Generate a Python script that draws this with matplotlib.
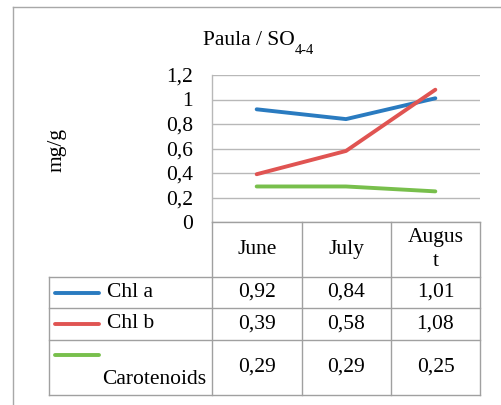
import matplotlib
from matplotlib import pyplot as plt
from matplotlib.lines import Line2D

matplotlib.use("Agg")

plt.rcParams["font.family"] = ["Liberation Serif", "DejaVu Serif"]

# data
months = ["June", "July", "Augus\nt"]
series_names = ["Chl a", "Chl b", "Carotenoids"]
chl_a = [0.92, 0.84, 1.01]
chl_b = [0.39, 0.58, 1.08]
carotenoids = [0.29, 0.29, 0.25]
y_ticks = [0, 0.2, 0.4, 0.6, 0.8, 1.0, 1.2]

colors = ["#2a7bc0", "#e05452", "#78bf4c"]
grid_col = "#b8b8b8"
table_col = "#a0a0a0"
fs = 15.5

W, H = 501, 405
fig = plt.figure(figsize=(W / 100, H / 100), dpi=100)


def fx(x):
    return x / W


def fy(y):
    return 1 - y / H


# plot area (pixel layout)
p_left, p_right, p_top, p_bottom = 212, 480, 75, 222
ax = fig.add_axes([fx(p_left), fy(p_bottom), fx(p_right) - fx(p_left), fy(p_top) - fy(p_bottom)])

x_pos = [i + 0.5 for i in range(len(months))]
for vals, col in zip([chl_a, chl_b, carotenoids], colors):
    ax.plot(x_pos, vals, color=col, lw=2.8, solid_capstyle="round", solid_joinstyle="round", zorder=3)

ax.set_xlim(0, len(months))
ax.set_ylim(0, 1.2)
ax.set_yticks(y_ticks)
ax.set_yticklabels([f"{v:g}".replace(".", ",") for v in y_ticks], fontsize=fs)
ax.tick_params(axis="y", length=0, pad=13.5)
ax.set_xticks([])
for v in y_ticks:
    ax.axhline(v, color=grid_col, lw=1.0, zorder=1)
for s in ["top", "right", "bottom"]:
    ax.spines[s].set_visible(False)
ax.spines["left"].set_color(grid_col)
ax.spines["left"].set_linewidth(1.0)

fig.text(fx(57), fy(150), "mg/g", rotation=90, ha="center", va="center", fontsize=fs)

# title with subscript
t_main = fig.text(fx(203), fy(45), "Paula / SO", ha="left", va="baseline", fontsize=fs)
ax.annotate("4-4", xy=(1, 0), xycoords=t_main, xytext=(0, -3), textcoords="offset points",
            ha="left", va="baseline", fontsize=10.5, annotation_clip=False)

# outer frame
fig.add_artist(Line2D([fx(13), fx(13)], [fy(7), fy(405)], color="#a8a8a8", lw=1.0))
fig.add_artist(Line2D([fx(13), fx(501)], [fy(7), fy(7)], color="#a8a8a8", lw=1.0))

# data table
col_edges = [49, 212, 302, 391, 480]
row_edges = [222, 277, 308, 340, 395]


def hline(y, x0, x1):
    fig.add_artist(Line2D([fx(x0), fx(x1)], [fy(y), fy(y)], color=table_col, lw=1.0))


def vline(x, y0, y1):
    fig.add_artist(Line2D([fx(x), fx(x)], [fy(y0), fy(y1)], color=table_col, lw=1.0))


hline(row_edges[0], col_edges[1], col_edges[-1])
for y in row_edges[1:]:
    hline(y, col_edges[0], col_edges[-1])
vline(col_edges[0], row_edges[1], row_edges[-1])
for x in col_edges[1:]:
    vline(x, row_edges[0], row_edges[-1])

col_centers = [(col_edges[i] + col_edges[i + 1]) / 2 for i in range(1, len(col_edges) - 1)]
row_centers = [(row_edges[i] + row_edges[i + 1]) / 2 for i in range(len(row_edges) - 1)]

for cx, m in zip(col_centers, months):
    fig.text(fx(cx), fy(row_centers[0]), m, ha="center", va="center", fontsize=fs, linespacing=1.4)

for r, (name, vals, col) in enumerate(zip(series_names, [chl_a, chl_b, carotenoids], colors)):
    cy = row_centers[r + 1]
    for cx, v in zip(col_centers, vals):
        fig.text(fx(cx), fy(cy), f"{v:.2f}".replace(".", ","), ha="center", va="center", fontsize=fs)
    if name == "Carotenoids":
        ly, tx, ty = 355, 102, 380
    else:
        ly, tx, ty = cy, 107, cy
    fig.add_artist(Line2D([fx(55), fx(99)], [fy(ly), fy(ly)], color=col, lw=2.8, solid_capstyle="round"))
    fig.text(fx(tx), fy(ty), name, ha="left", va="center", fontsize=fs)

plt.savefig("out.png", dpi=100)
